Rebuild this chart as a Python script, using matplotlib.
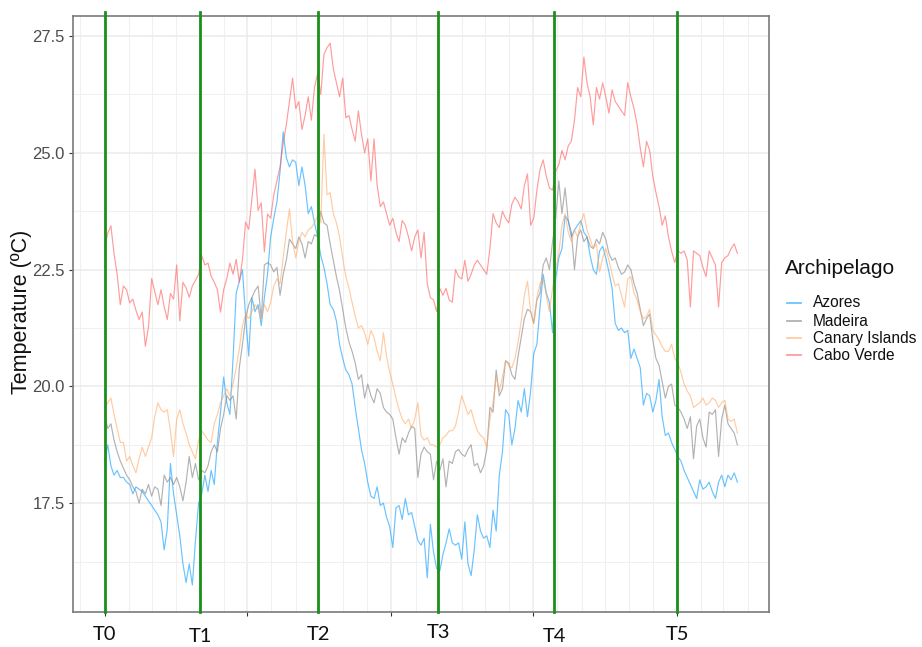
import numpy as np
import matplotlib
matplotlib.use("Agg")
import matplotlib.pyplot as plt
import matplotlib.dates as mdates
from matplotlib.lines import Line2D

# Sea surface temperature series, one value every 4 days
start_date = "2016-01-01"
step_days = 4

azores = [
    18.4, 18.75, 18.3, 18.1, 18.2, 18.05, 18.05, 17.95, 17.9, 17.7,
    17.85, 17.8, 17.75, 17.65, 17.55, 17.45, 17.35, 17.25, 17.1, 16.5,
    16.95, 18.35, 17.7, 17.25, 16.8, 16.2, 15.8, 16.2, 15.75, 16.7,
    17.5, 17.7, 18.1, 17.75, 18.2, 17.9, 18.8, 19.45, 20.2, 19.65,
    19.4, 20.6, 22.0, 22.25, 22.5, 21.5, 20.65, 21.9, 21.6, 21.75,
    21.3, 21.9, 22.4, 23.2, 23.6, 23.95, 24.6, 25.45, 24.9, 24.7,
    24.85, 24.8, 24.3, 24.7, 24.3, 23.7, 23.85, 23.5, 23.2, 22.8,
    22.55, 22.2, 21.75, 21.65, 21.4, 20.9, 20.6, 20.35, 20.25, 20.05,
    19.55, 19.1, 18.65, 18.35, 17.95, 17.65, 17.6, 17.85, 17.45, 17.5,
    17.2, 17.0, 16.55, 17.4, 17.45, 17.15, 17.6, 17.25, 17.3, 17.0,
    16.7, 16.6, 16.75, 15.9, 17.05, 16.45, 16.1, 16.05, 16.4, 16.65,
    16.95, 16.65, 16.6, 16.65, 16.3, 17.1, 16.2, 15.95, 16.5, 17.25,
    16.9, 16.75, 16.8, 16.55, 17.35, 16.9, 18.1, 18.6, 19.5, 19.4,
    18.75, 19.1, 19.7, 19.45, 19.95, 19.35, 19.9, 20.7, 20.9, 21.7,
    22.4, 22.0, 21.8, 21.15, 22.3, 22.75, 22.95, 23.65, 23.55, 23.2,
    23.35, 23.45, 23.55, 23.3, 23.2, 22.8, 22.5, 22.4, 22.9, 23.0,
    22.75, 22.45, 22.1, 21.35, 21.2, 21.25, 21.15, 21.2, 20.6, 20.8,
    20.6, 20.4, 19.6, 19.85, 19.8, 19.45, 19.7, 20.15, 19.35, 18.95,
    19.0, 18.8, 18.65, 18.5, 18.4, 18.2, 18.05, 17.9, 17.75, 17.6,
    18.0, 17.8, 17.85, 17.95, 17.75, 17.6, 17.95, 18.1, 17.85, 18.1,
    18.0, 18.15, 17.95,
]

madeira = [
    19.4, 19.1, 19.2, 18.85, 18.6, 18.4, 18.25, 18.1, 18.0, 17.85,
    17.75, 17.5, 17.8, 17.7, 17.9, 17.65, 17.85, 17.8, 17.45, 18.1,
    17.95, 18.05, 17.9, 18.05, 17.85, 17.55, 17.95, 18.5, 18.05, 18.35,
    18.0, 18.2, 18.15, 18.3, 18.6, 18.75, 18.6, 19.1, 19.4, 19.8,
    19.7, 19.8, 19.3, 20.4, 20.9, 21.45, 21.75, 21.9, 22.05, 22.15,
    21.45, 22.6, 22.65, 22.6, 22.45, 22.55, 21.95, 22.4, 22.7, 23.15,
    23.05, 22.95, 23.2, 23.05, 22.75, 23.1, 23.05, 23.25, 23.2, 23.75,
    23.5, 23.45, 23.05, 22.7, 22.35, 22.05, 21.65, 21.25, 20.95, 20.75,
    20.5, 20.15, 20.25, 19.75, 20.05, 19.8, 19.65, 19.95, 19.85, 19.55,
    19.45, 19.4, 19.3, 18.9, 18.55, 18.9, 18.8, 19.0, 19.15, 19.1,
    18.05, 18.55, 18.7, 18.6, 18.55, 18.0, 18.4, 18.2, 18.45, 17.85,
    18.4, 18.35, 18.6, 18.65, 18.55, 18.5, 18.65, 18.75, 18.3, 18.35,
    18.15, 18.3, 18.65, 19.55, 19.45, 20.35, 19.8, 19.95, 20.55, 20.5,
    20.25, 20.15, 20.65, 21.05, 21.45, 21.65, 21.6, 21.35, 21.85, 22.0,
    22.6, 22.75, 22.5, 23.1, 23.6, 24.4, 23.7, 24.25, 23.55, 23.3,
    22.5, 23.2, 23.35, 23.1, 23.2, 23.0, 22.95, 23.15, 23.05, 23.3,
    23.15, 22.85, 22.7, 22.75, 22.55, 22.4, 22.45, 22.6, 22.5, 22.2,
    22.0, 21.65, 21.3, 21.45, 21.55, 21.0, 20.6, 20.45, 20.1, 19.75,
    20.0, 20.05, 19.6, 19.55, 19.45, 19.3, 19.1, 19.35, 18.45, 19.15,
    19.3, 18.9, 18.7, 19.45, 19.4, 19.5, 18.5, 19.3, 19.6, 19.2,
    19.1, 19.0, 18.75,
]

canary = [
    19.55, 19.65, 19.75, 19.4, 19.1, 18.8, 18.8, 18.4, 18.5, 18.3,
    18.15, 18.45, 18.7, 18.5, 18.7, 18.9, 19.35, 19.65, 19.5, 19.45,
    19.5, 19.05, 18.5, 19.3, 19.5, 19.2, 19.0, 18.75, 18.6, 18.45,
    18.85, 19.05, 18.95, 18.85, 18.8, 19.2, 19.4, 19.65, 19.8, 19.95,
    19.8, 20.05, 20.4, 20.8, 21.3, 21.55, 21.45, 21.6, 21.75, 21.65,
    21.45, 21.75, 21.6, 21.8, 22.15, 22.3, 22.2, 22.75, 23.3, 23.8,
    23.1, 22.75, 23.1, 23.3, 23.2, 23.35, 23.4, 23.5, 23.65, 23.5,
    25.4, 24.1, 24.15, 23.7, 23.5, 23.2, 22.75, 22.35, 22.1, 21.8,
    21.5, 21.25, 21.3, 21.15, 20.9, 21.2, 21.05, 20.75, 20.55, 21.15,
    20.65, 20.3, 20.05, 19.75, 19.5, 19.3, 19.2, 19.3, 19.1, 19.3,
    19.65, 18.95, 18.85, 18.9, 18.75, 18.75, 18.7, 18.75, 18.9, 18.95,
    19.05, 19.05, 19.15, 19.45, 19.8, 19.6, 19.4, 19.5, 19.25, 19.05,
    18.95, 18.9, 18.7, 19.3, 19.65, 20.2, 19.9, 20.2, 20.55, 20.45,
    20.4, 20.6, 20.95, 21.4, 21.95, 22.25, 21.6, 21.35, 21.9, 22.2,
    22.3, 21.95, 21.6, 22.1, 22.5, 22.85, 23.45, 23.7, 23.3, 23.1,
    23.35, 23.2, 23.5, 23.7, 23.35, 23.15, 22.95, 23.05, 22.45, 22.75,
    22.95, 22.7, 22.4, 22.15, 22.2, 21.95, 21.7, 22.3, 22.35, 22.0,
    21.85, 21.6, 21.45, 21.5, 21.65, 21.2, 21.1, 21.0, 20.85, 20.75,
    20.75, 20.9, 20.6, 20.5, 20.3, 20.05, 19.9, 19.8, 19.55, 19.6,
    19.65, 19.75, 19.6, 19.65, 19.75, 19.7, 19.55, 19.65, 19.7, 19.3,
    19.25, 19.3, 19.0,
]

cabo_verde = [
    22.96, 23.28, 23.44, 22.84, 22.4, 21.75, 22.15, 22.07, 21.79, 21.87,
    21.63, 21.43, 21.59, 20.86, 21.27, 22.31, 22.03, 21.75, 22.07, 21.71,
    21.43, 21.99, 21.87, 22.6, 21.4, 22.23, 22.11, 21.91, 22.15, 22.27,
    22.4, 22.8, 22.6, 22.64, 22.36, 22.23, 22.07, 21.59, 22.07, 22.31,
    22.64, 22.4, 22.72, 22.23, 22.72, 23.52, 23.36, 24.01, 24.65, 23.77,
    23.93, 22.88, 23.69, 23.6, 24.1, 24.4, 24.7, 25.2, 25.6, 26.1,
    26.6, 25.95, 26.1, 25.5, 25.8, 26.2, 25.7, 26.4, 26.7, 26.25,
    27.1, 27.25, 27.35, 26.8, 26.5, 26.2, 26.6, 25.75, 25.8, 25.5,
    25.25, 25.9, 25.4, 25.0, 25.3, 24.4, 25.3, 24.3, 23.85, 23.95,
    23.7, 23.45, 23.6, 23.3, 23.1, 23.55, 23.45, 23.2, 22.9, 23.2,
    23.35, 22.75, 23.3, 22.2, 21.9, 21.85, 21.6, 22.1, 21.95, 22.1,
    21.85, 21.8, 22.5, 22.35, 22.3, 22.7, 22.25, 22.4, 22.6, 22.7,
    22.6, 22.5, 22.4, 22.95, 23.7, 23.5, 23.4, 23.75, 23.6, 23.5,
    23.9, 24.05, 23.95, 23.8, 24.3, 24.55, 23.45, 23.6, 24.2, 24.65,
    24.85, 24.5, 24.25, 24.2, 24.6, 24.75, 25.05, 24.85, 25.15, 25.25,
    25.7, 26.4, 26.2, 27.05, 26.5, 26.2, 25.6, 26.4, 26.15, 26.5,
    26.2, 25.85, 26.35, 26.1, 26.0, 25.9, 25.8, 26.5, 26.2, 25.95,
    25.6, 25.1, 24.7, 25.25, 25.05, 24.5, 24.15, 23.85, 23.45, 23.65,
    23.2, 22.9, 22.65, 22.9, 22.85, 22.9, 22.7, 21.7, 22.9, 22.85,
    22.8, 22.55, 22.35, 22.9, 22.75, 22.6, 21.7, 22.65, 22.75, 22.8,
    22.95, 23.05, 22.85,
]

series_names = ["Azores", "Madeira", "Canary Islands", "Cabo Verde"]
series_values = [azores, madeira, canary, cabo_verde]
series_colors = ["#1aa3ff", "#808080", "#ffaa66", "#ff5a5a"]
series_alpha = [0.65, 0.6, 0.6, 0.6]

# Sampling campaigns
event_labels = ["T0", "T1", "T2", "T3", "T4", "T5"]
event_dates = ["2016-01-01", "2016-05-02", "2016-09-30",
               "2017-03-02", "2017-07-28", "2018-01-01"]
event_label_y = [635, 637, 635, 632, 637, 634]

n = len(azores)
dates = np.datetime64(start_date) + np.arange(n) * np.timedelta64(step_days, "D")

plt.rcParams["font.family"] = ["Liberation Sans", "DejaVu Sans"]

W, H = 922, 647
fig = plt.figure(figsize=(W / 100, H / 100), dpi=100)
ax = fig.add_axes([73 / W, 1 - 612 / H, (769 - 73) / W, (612 - 16) / H])

for name, vals, col, a in zip(series_names, series_values, series_colors, series_alpha):
    ax.plot(dates, vals, color=col, alpha=a, lw=0.85, label=name, zorder=3)

# x range with 5% padding on each side
x0 = mdates.date2num(dates[0])
x1 = mdates.date2num(dates[-1])
pad = 0.05 * (x1 - x0)
ax.set_xlim(x0 - pad, x1 + pad)

all_vals = np.concatenate([np.asarray(v) for v in series_values])
ymin, ymax = all_vals.min(), all_vals.max()
ypad = 0.05 * (ymax - ymin)
ax.set_ylim(ymin - ypad, ymax + ypad)

# grid: half-yearly majors, monthly minors
ax.xaxis.set_major_locator(mdates.MonthLocator(bymonth=[1, 7]))
ax.xaxis.set_minor_locator(mdates.MonthLocator())
ax.set_yticks([17.5, 20.0, 22.5, 25.0, 27.5])
ax.set_yticks([16.25, 18.75, 21.25, 23.75, 26.25], minor=True)
ax.grid(which="major", color="#ebebeb", lw=1.1, zorder=0)
ax.grid(which="minor", color="#f0f0f0", lw=0.8, zorder=0)
ax.set_axisbelow(True)

ax.set_xticklabels([])
ax.tick_params(axis="x", which="major", length=3, color="#333333", width=0.8)
ax.tick_params(axis="x", which="minor", length=0)
ax.tick_params(axis="y", which="major", length=3, color="#333333", width=0.8,
               labelsize=12, labelcolor="#4d4d4d", pad=3)
ax.tick_params(axis="y", which="minor", length=0)
ax.yaxis.set_major_formatter(matplotlib.ticker.FormatStrFormatter("%.1f"))

for s in ax.spines.values():
    s.set_color("#7a7a7a")
    s.set_linewidth(1.2)

fig.text(22 / W, 1 - 312 / H, "Temperature (ºC)", rotation=90,
         ha="center", va="center", fontsize=15.5, color="#111111")

# campaign markers
for lab, d, ly in zip(event_labels, event_dates, event_label_y):
    xd = mdates.date2num(np.datetime64(d))
    ax.axvline(xd, ymin=0, ymax=1.007, color="#1a8f1a", lw=2.0, clip_on=False, zorder=4)
    xf = fig.transFigure.inverted().transform(ax.transData.transform((xd, 0)))[0]
    fig.text(xf, 1 - ly / H, lab, ha="center", va="center",
             fontsize=14.5, family=["Lato", "DejaVu Sans"], color="#111111")

# legend
fig.text(785 / W, 1 - 268 / H, "Archipelago", ha="left", va="center",
         fontsize=15, color="#111111")
key_rows = [303, 321, 338, 355]
for name, col, a, yy in zip(series_names, series_colors, series_alpha, key_rows):
    yf = 1 - yy / H
    fig.add_artist(Line2D([787 / W, 801 / W], [yf, yf], color=col, alpha=a,
                          lw=1.3, transform=fig.transFigure))
    fig.text(813 / W, yf, name, ha="left", va="center", fontsize=11.2,
             color="#111111")

fig.savefig("out.png", dpi=100)
